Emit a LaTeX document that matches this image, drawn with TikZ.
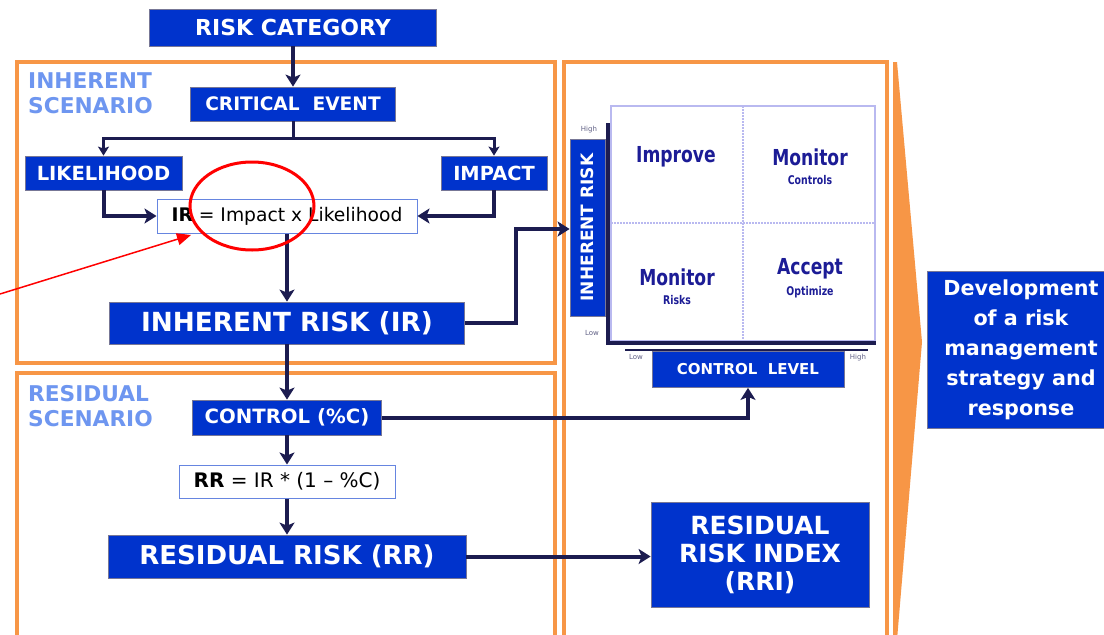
\documentclass[tikz,border=0pt]{standalone}
\usepackage{fontspec}
\setmainfont{DejaVu Sans}
\newfontfamily\quadfont{DejaVu Sans}[FakeStretch=0.78]
\usetikzlibrary{arrows.meta,shapes.geometric}
\definecolor{boxblue}{RGB}{0,51,204}
\definecolor{navy}{RGB}{28,28,80}
\definecolor{frameorange}{RGB}{247,150,70}
\definecolor{scenblue}{RGB}{110,150,240}
\definecolor{gridline}{RGB}{185,185,240}
\definecolor{quadtext}{RGB}{28,28,150}

\begin{document}
\begin{tikzpicture}[x=1pt,y=-1pt,
    bluebox/.style ={fill=boxblue, draw=navy!60, line width=0.8pt, text=white, inner sep=0pt, align=center},
    formula/.style ={fill=white, draw=boxblue!60, line width=1pt, text=black, inner sep=0pt},
    scenario/.style ={anchor=north west, align=left, text=scenblue, inner sep=0pt,
        font=\fontsize{21.7}{25}\selectfont\bfseries},
    flow/.style ={draw=navy, line width=4pt, -{Stealth[length=12pt,width=15pt,inset=3pt]}},
    branch/.style ={draw=navy, line width=3pt, -{Stealth[length=9pt,width=11pt,inset=2pt]}},
    frame/.style ={draw=frameorange, line width=4pt},
    quad/.style ={text=quadtext, inner sep=0pt, font=\quadfont\fontsize{22}{24}\selectfont\bfseries},
    quadsub/.style ={text=quadtext, inner sep=0pt, font=\quadfont\fontsize{12}{13}\selectfont\bfseries},
    axislabel/.style ={text=navy!70, inner sep=0pt, font=\fontsize{7}{8}\selectfont}]
   \useasboundingbox (0,0) rectangle (1104,635);
   \fill[white] (0,0) rectangle (1104,635);
   \clip (0,0) rectangle (1104,635);
   % frames
   \draw[frame] (17,62) rectangle (555,363);
   \draw[frame] (17,373) rectangle (555,660);
   \draw[frame] (564,62) rectangle (887,660);
   \fill[frameorange] (893,62) -- (897,62) -- (922,342) -- (897,640) -- (893,640) -- cycle;
   \node[scenario] (inhlabel) at (28,72) {INHERENT\\SCENARIO};
   \node[scenario] (reslabel) at (28,385) {RESIDUAL\\SCENARIO};
   % inherent scenario
   \node[bluebox, minimum width=287, minimum height=37, font=\fontsize{22}{24}\selectfont\bfseries] (cat) at (293,27.5) {RISK CATEGORY};
   \node[bluebox, minimum width=205, minimum height=34, font=\fontsize{18.6}{20}\selectfont\bfseries] (crit) at (293,104) {CRITICAL~~EVENT};
   \node[bluebox, minimum width=157, minimum height=34, font=\fontsize{19.5}{21}\selectfont\bfseries] (lik) at (103.5,173) {LIKELIHOOD};
   \node[bluebox, minimum width=106, minimum height=34, font=\fontsize{19.4}{21}\selectfont\bfseries] (imp) at (494,173) {IMPACT};
   \node[formula, minimum width=260, minimum height=34, font=\fontsize{18.7}{20}\selectfont] (irf) at (287,216) {\textbf{IR} = Impact x Likelihood};
   \node[bluebox, minimum width=355, minimum height=42, font=\fontsize{26.3}{28}\selectfont\bfseries] (ir) at (287,323) {INHERENT RISK (IR)};
   % residual scenario
   \node[bluebox, minimum width=189, minimum height=35, font=\fontsize{19.7}{21}\selectfont\bfseries] (ctrl) at (287,417.5) {CONTROL (\%C)};
   \node[formula, minimum width=216, minimum height=33, font=\fontsize{20}{21}\selectfont] (rrf) at (287,481.5) {\textbf{RR} = IR * (1 – \%C)};
   \node[bluebox, minimum width=358, minimum height=43, font=\fontsize{26}{28}\selectfont\bfseries] (rr) at (287,556.5) {RESIDUAL RISK (RR)};
   \node[bluebox, minimum width=218, minimum height=105, font=\fontsize{25}{28}\selectfont\bfseries] (rri) at (760,554.5) {RESIDUAL\\RISK INDEX\\(RRI)};
   \node[bluebox, minimum width=188, minimum height=157, font=\fontsize{20.7}{30}\selectfont\bfseries] (dev) at (1021,349.5) {Development\\of a risk\\management\\strategy and\\response};
   % risk matrix
   \draw[gridline, line width=1.2pt] (611,106) rectangle (875,341);
   \draw[gridline, line width=2pt, densely dotted] (743,106) -- (743,341);
   \draw[gridline, line width=2pt, densely dotted] (611,223) -- (875,223);
   \draw[navy, line width=4pt] (608,123) -- (608,343) -- (876,343);
   \draw[navy, line width=1.5pt] (625,350) -- (868,350);
   \node[bluebox, rotate=90, minimum width=177, minimum height=35, font=\fontsize{17}{18}\selectfont\bfseries] (irbar) at (587.5,227.5) {INHERENT RISK};
   \node[bluebox, minimum width=192, minimum height=36, font=\fontsize{15}{17}\selectfont\bfseries] (clevel) at (748,369.5) {CONTROL~~LEVEL};
   \node[quad] (improve) at (676,157) {Improve};
   \node[quad] (monctl) at (810,157) {Monitor};
   \node[quadsub] (ctlsub) at (810,180) {Controls};
   \node[quad] (monrisk) at (677,277) {Monitor};
   \node[quadsub] (risksub) at (677,300) {Risks};
   \node[quad] (accept) at (810,269) {Accept};
   \node[quadsub] (optsub) at (810,292) {Optimize};
   \node[axislabel] (yhigh) at (589,130) {High};
   \node[axislabel] (ylow) at (592,333) {Low};
   \node[axislabel] (xlow) at (636,357) {Low};
   \node[axislabel] (xhigh) at (858,358) {High};
   % connectors
   \coordinate (irturn) at (516,229);
   \draw[flow] (cat) -- (crit);
   \draw[branch] (crit.south) -- ++(0,17) -| (lik.north);
   \draw[branch] (crit.south) -- ++(0,17) -| (imp.north);
   \draw[flow] (lik.south) |- (irf.west);
   \draw[flow] (imp.south) |- (irf.east);
   \draw[flow] (irf) -- (ir);
   \draw[flow] (ir.east) -| (irturn) -- (irturn -| irbar.north);
   \draw[flow] (ir) -- (ctrl);
   \draw[flow] (ctrl.east) -| (clevel.south);
   \draw[flow] (ctrl) -- (rrf);
   \draw[flow] (rrf) -- (rr);
   \draw[flow] (rr.east) -- (rr.east -| rri.west);
   % annotation
   \node[ellipse, draw=red, line width=3pt, minimum width=124, minimum height=88] (circ) at (252,206) {};
   \coordinate (redstart) at (0,294);
   \coordinate (redtip) at (191,235);
   \draw[red, line width=1.5pt, -{Triangle[length=14pt,width=12pt]}] (redstart) -- (redtip);
 \end{tikzpicture}
\end{document}
